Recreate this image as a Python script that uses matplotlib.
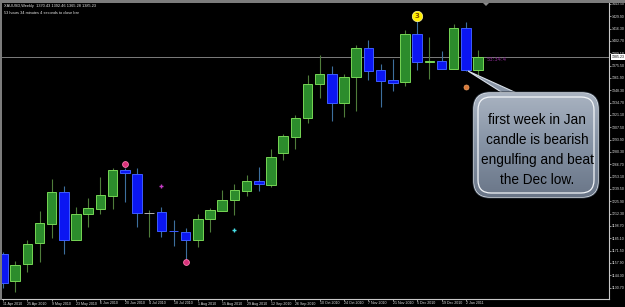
import matplotlib.pyplot as plt
from matplotlib.patches import FancyBboxPatch, Polygon, Rectangle
from matplotlib.colors import LinearSegmentedColormap
import numpy as np

# weekly XAUUSD candles, 11 Apr 2010 .. 9 Jan 2011
opens = [1167.8, 1138.0, 1156.7, 1179.9, 1200.8, 1236.1, 1183.2, 1211.9, 1217.4, 1231.7,
         1260.4, 1256.0, 1213.0, 1214.1, 1193.4, 1192.0, 1183.2, 1206.4, 1215.2, 1227.3,
         1237.2, 1248.3, 1243.9, 1279.2, 1296.8, 1317.8, 1355.3, 1366.3, 1334.3, 1363.0,
         1395.0, 1370.7, 1359.7, 1357.5, 1410.4, 1379.5, 1380.6, 1371.8, 1417.0, 1370.43]
highs = [1170.0, 1160.0, 1183.2, 1215.2, 1250.5, 1242.8, 1219.6, 1229.5, 1252.7, 1262.6,
         1262.6, 1262.6, 1216.3, 1219.6, 1205.2, 1196.4, 1211.9, 1218.5, 1238.3, 1245.0,
         1254.9, 1263.7, 1283.6, 1300.1, 1321.1, 1365.2, 1387.2, 1375.1, 1366.3, 1398.3,
         1403.8, 1377.3, 1382.8, 1414.8, 1425.9, 1407.1, 1391.7, 1421.4, 1423.6, 1392.46]
lows = [1130.2, 1125.8, 1147.9, 1158.9, 1185.4, 1167.8, 1183.0, 1197.5, 1211.9, 1217.4,
        1225.1, 1197.5, 1186.5, 1186.5, 1176.6, 1161.1, 1175.5, 1192.0, 1215.0, 1210.8,
        1231.7, 1237.2, 1241.7, 1271.4, 1283.6, 1312.2, 1339.8, 1314.4, 1318.9, 1325.5,
        1359.7, 1329.9, 1347.5, 1353.1, 1370.7, 1360.8, 1371.5, 1371.3, 1370.0, 1365.28]
closes = [1135.8, 1155.6, 1178.8, 1201.9, 1236.1, 1183.2, 1211.9, 1218.5, 1232.8, 1260.4,
          1257.1, 1213.0, 1213.0, 1193.1, 1193.1, 1183.2, 1206.4, 1216.3, 1227.3, 1238.3,
          1248.3, 1245.0, 1274.7, 1297.9, 1317.8, 1355.3, 1366.3, 1334.3, 1363.0, 1395.0,
          1369.6, 1358.6, 1356.4, 1410.4, 1379.5, 1380.6, 1371.8, 1417.0, 1370.5, 1385.23]

date_labels = ["11 Apr 2010", "25 Apr 2010", "9 May 2010", "23 May 2010", "6 Jun 2010",
               "20 Jun 2010", "4 Jul 2010", "18 Jul 2010", "1 Aug 2010", "15 Aug 2010",
               "29 Aug 2010", "12 Sep 2010", "26 Sep 2010", "10 Oct 2010", "24 Oct 2010",
               "7 Nov 2010", "21 Nov 2010", "5 Dec 2010", "19 Dec 2010", "2 Jan 2011"]
price_ticks = [1443.50, 1429.90, 1416.30, 1402.70, 1389.10, 1375.50, 1361.90, 1348.30,
               1334.70, 1321.10, 1307.50, 1293.90, 1280.30, 1266.70, 1253.10, 1239.50,
               1225.90, 1212.30, 1198.70, 1185.10, 1171.50, 1157.90, 1144.30, 1130.70]

# indicator marks
fractal_idx = [10, 15]
fractal_val = [1266.5, 1158.9]
plus_magenta = (13, 1242.8)
plus_cyan = (19, 1194.2)
count_mark = (34, 1430.3)
orange_mark = (38, 1352.0)

bid = 1385.23
header = "XAUUSD,Weekly  1370.43 1392.46 1365.28 1385.23"
timer_text = "53 hours 34 minutes 4 seconds to close bar"
note = "first week in Jan\ncandle is bearish\nengulfing and beat\nthe Dec low."

W, H = 625, 307
fig = plt.figure(figsize=(W / 100, H / 100), dpi=100, facecolor="black")

# chart area in pixels: x 2..609, y 3..299
ax = fig.add_axes([2 / W, 8 / H, 607 / W, 296 / H], facecolor="black")
ax.set_xlim(-0.08, 49.75)
ax.set_ylim(1118.1, 1444.6)

x = np.arange(len(opens))
o = np.array(opens)
c = np.array(closes)
bull = c >= o

wick_col = np.where(bull, "#4f7d3a", "#3d6f9e")
ax.vlines(x, lows, highs, colors=wick_col, lw=0.8, zorder=2)

body_h = np.maximum(np.abs(c - o), 0.4)
body_b = np.minimum(o, c)
face = np.where(bull, "#2c8c2c", "#0b16f2")
edge = np.where(bull, "#76d655", "#3c5cff")
doji = c == o
face = np.where(doji, "#9a9a9a", face)
edge = np.where(doji, "#b0b0b0", edge)
ax.bar(x, body_h, bottom=body_b, width=0.78, color=face, edgecolor=edge,
       linewidth=0.7, zorder=3)

# indicator marks
ax.plot(fractal_idx, fractal_val, "o", ms=4.2, color="#d8327a",
        markeredgecolor="#ff7ab0", mew=0.6, zorder=4)
ax.plot(*plus_magenta, "+", ms=3, color="#c43cc4", mew=1.0, zorder=4)
ax.plot(*plus_cyan, "+", ms=3, color="#48e0e8", mew=1.0, zorder=4)
ax.plot(*orange_mark, "o", ms=3.6, color="#d9783a", markeredgecolor="#f0a060",
        mew=0.5, zorder=4)
ax.plot(*count_mark, "o", ms=7.5, color="#ffee00", markeredgecolor="#fff8a0",
        mew=0.5, zorder=4)
ax.text(count_mark[0], count_mark[1], "3", ha="center", va="center",
        fontsize=5, fontweight="bold", color="#7a4a00", zorder=5)

ax.axhline(bid, color="#7d7d7d", lw=0.7, zorder=1)
ax.text(39.7, bid - 3.5, "53:34:4", color="#8a2a92", fontsize=3.8,
        va="center", ha="left", zorder=5)

# axes styling
for s in ("left", "top"):
    ax.spines[s].set_visible(False)
for s in ("right", "bottom"):
    ax.spines[s].set_color("#c8c8c8")
    ax.spines[s].set_linewidth(0.8)

ax.set_xticks(np.arange(0, 40, 2))
ax.set_xticklabels(date_labels, fontsize=2.6, family="Liberation Sans", ha="left")
ax.tick_params(axis="x", colors="#c8c8c8", length=1.5, width=0.5, pad=0.3,
               labelcolor="#e0e0e0")
ax.yaxis.tick_right()
ax.set_yticks(price_ticks)
ax.set_yticklabels([f"{v:.2f}" for v in price_ticks], fontsize=2.5,
                   family="Liberation Sans")
ax.tick_params(axis="y", colors="#c8c8c8", length=1.5, width=0.5, pad=0.5,
               labelcolor="#e0e0e0")

ax.annotate(f"{bid:.2f}", xy=(1.0, bid), xycoords=("axes fraction", "data"),
            xytext=(2, 0), textcoords="offset points", fontsize=2.5,
            family="Liberation Sans", color="black", va="center", ha="left",
            bbox=dict(boxstyle="square,pad=0.2", fc="white", ec="white", lw=0),
            annotation_clip=False)

ax.text(0.004, 0.995, header, transform=ax.transAxes, fontsize=2.8,
        family="Liberation Sans", color="#e8e8e8", va="top", ha="left")
ax.text(0.004, 0.972, timer_text, transform=ax.transAxes, fontsize=2.8,
        family="Liberation Sans", color="#e8e8e8", va="top", ha="left")

# overlay in pixel coordinates for the window frame and the callout
ov = fig.add_axes([0, 0, 1, 1], facecolor="none")
ov.set_xlim(0, W)
ov.set_ylim(H, 0)
ov.axis("off")

ov.add_patch(Rectangle((0, 0), W, 3, color="#7c7c7c", lw=0))
ov.add_patch(Rectangle((0, 0), 2, 300, color="#7c7c7c", lw=0))
ov.add_patch(Polygon([(483, 3), (489, 3), (486, 6)], color="#8a8a8a", lw=0))

pointer = Polygon([(468, 71), (506, 95), (521, 95)], closed=True,
                  fc="#8995a6", ec="#d8dfe8", lw=0.8, zorder=5)
ov.add_patch(pointer)

outer = FancyBboxPatch((474, 93), 124, 104, boxstyle="round,pad=0,rounding_size=16",
                       fc="none", ec="#2b3440", lw=2.2, zorder=6)
ov.add_patch(outer)
box = FancyBboxPatch((474, 93), 124, 104, boxstyle="round,pad=0,rounding_size=16",
                     fc="#8491a3", ec="#e4eaf0", lw=1.0, zorder=6)
ov.add_patch(box)
grad = np.linspace(0, 1, 100).reshape(-1, 1)
cmap = LinearSegmentedColormap.from_list("callout", ["#a9b3c1", "#8592a4", "#6a7688"])
img = ov.imshow(grad, cmap=cmap, extent=(474, 598, 197, 93), aspect="auto", zorder=6.5)
img.set_clip_path(box)
inner = FancyBboxPatch((478, 97), 116, 96, boxstyle="round,pad=0,rounding_size=13",
                       fc="none", ec="#f2f5f8", lw=0.9, zorder=7)
ov.add_patch(inner)
ov.set_xlim(0, W)
ov.set_ylim(H, 0)

ov.text(537, 150, note, ha="center", va="center", fontsize=9.8,
        family="Liberation Sans", color="black", linespacing=1.55, zorder=8)

fig.savefig("out.png", dpi=100, facecolor="black")
